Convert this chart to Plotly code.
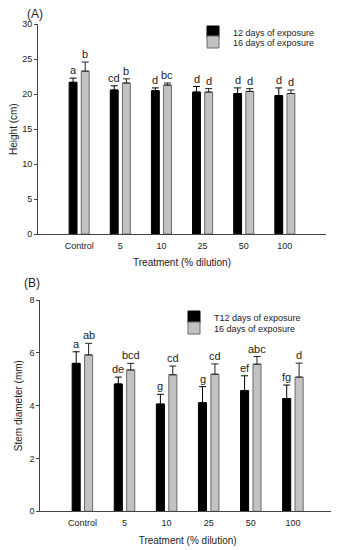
import plotly.graph_objects as go

categories = ["Control", "5", "10", "25", "50", "100"]

height_12 = [21.7, 20.6, 20.5, 20.3, 20.1, 19.8]
height_12_err = [0.6, 0.6, 0.4, 0.8, 0.8, 1.1]
height_16 = [23.3, 21.6, 21.3, 20.3, 20.4, 20.1]
height_16_err = [1.3, 0.6, 0.3, 0.5, 0.4, 0.5]
height_12_letters = ["a", "cd", "d", "d", "d", "d"]
height_16_letters = ["b", "b", "bc", "d", "d", "d"]

stem_12 = [5.60, 4.82, 4.06, 4.11, 4.57, 4.27]
stem_12_err = [0.44, 0.26, 0.37, 0.61, 0.56, 0.51]
stem_16 = [5.92, 5.35, 5.17, 5.19, 5.57, 5.08]
stem_16_err = [0.44, 0.25, 0.33, 0.39, 0.29, 0.53]
stem_12_letters = ["a", "de", "g", "g", "ef", "fg"]
stem_16_letters = ["ab", "bcd", "cd", "cd", "abc", "d"]

height_ticks = [0, 5, 10, 15, 20, 25, 30]
stem_ticks = [0, 2, 4, 6, 8]

# the page body has an 8px margin; lay out in screen pixels and convert
OFF = 8
W, H = 339 - OFF, 550 - OFF


def px(x):
    return (x - OFF) / W


def py(y):
    return 1 - (y - OFF) / H


FONT = "Liberation Sans, Arial, sans-serif"
BLACK = "#000000"
GRAY = "#c2c2c2"
GRAY_LINE = "#6a6a6a"
AXIS = "#444444"
TEXT = "#222222"

fig = go.Figure()


def add_bars(y12, e12, y16, e16, name12, name16, xa, ya, leg1, leg2):
    fig.add_trace(go.Bar(
        x=categories, y=y12, name=name12, xaxis=xa, yaxis=ya, legend=leg1, showlegend=True,
        marker=dict(color=BLACK, line=dict(color=BLACK, width=1)),
        error_y=dict(type="data", array=e12, arrayminus=[0] * len(e12), symmetric=False,
                     color=BLACK, thickness=1, width=3.5),
    ))
    fig.add_trace(go.Bar(
        x=categories, y=y16, name=name16, xaxis=xa, yaxis=ya, legend=leg2, showlegend=True,
        marker=dict(color=GRAY, line=dict(color=GRAY_LINE, width=1)),
        error_y=dict(type="data", array=e16, arrayminus=[0] * len(e16), symmetric=False,
                     color=TEXT, thickness=1, width=3.5),
    ))


add_bars(height_12, height_12_err, height_16, height_16_err,
         "12 days of exposure", "16 days of exposure", "x", "y", "legend", "legend2")
add_bars(stem_12, stem_12_err, stem_16, stem_16_err,
         "T12 days of exposure", "16 days of exposure", "x2", "y2", "legend3", "legend4")

annotations = []


def add_letters(vals, errs, letters, xref, yref, shift):
    for i, (v, e, t) in enumerate(zip(vals, errs, letters)):
        annotations.append(dict(
            x=i, y=v + e, xref=xref, yref=yref, text=t, showarrow=False,
            xanchor="center", yanchor="bottom", xshift=shift, yshift=0,
            font=dict(family=FONT, size=11, color=TEXT),
        ))


add_letters(height_12, height_12_err, height_12_letters, "x", "y", -6)
add_letters(height_16, height_16_err, height_16_letters, "x", "y", 6)
add_letters(stem_12, stem_12_err, stem_12_letters, "x2", "y2", -6.2)
add_letters(stem_16, stem_16_err, stem_16_letters, "x2", "y2", 6.2)

# panel labels
annotations += [
    dict(x=px(25), y=py(14), xref="paper", yref="paper", text="(A)", showarrow=False,
         xanchor="left", yanchor="middle", font=dict(family=FONT, size=12, color=TEXT)),
    dict(x=px(22), y=py(283), xref="paper", yref="paper", text="(B)", showarrow=False,
         xanchor="left", yanchor="middle", font=dict(family=FONT, size=12, color=TEXT)),
]
fig.update_layout(annotations=annotations)

tick_font = dict(family=FONT, size=9, color=TEXT)
title_font = dict(family=FONT, size=10, color=TEXT)

common_x = dict(type="category", range=[-1, 6], showline=True, linecolor=AXIS, linewidth=1,
                ticks="", showgrid=False, zeroline=False, tickfont=tick_font, automargin=False,
                ticklabelstandoff=3,
                title=dict(text="Treatment (% dilution)", font=title_font, standoff=9))
common_y = dict(showline=True, linecolor=AXIS, linewidth=1, ticks="outside", ticklen=3,
                tickcolor=AXIS, showgrid=False, zeroline=False, tickfont=tick_font, automargin=False)

fig.update_layout(
    width=W, height=H,
    margin=dict(l=0, r=0, t=0, b=0, autoexpand=False),
    paper_bgcolor="white", plot_bgcolor="white",
    showlegend=True,
    barmode="group", bargap=0.41, bargroupgap=0.35,
    font=dict(family=FONT, color=TEXT),
    xaxis=dict(domain=[px(38), px(326)], anchor="y", **common_x),
    yaxis=dict(domain=[py(234), py(24.3)], anchor="x", range=[0, 30],
               tickvals=height_ticks, title=dict(text="Height (cm)", font=title_font, standoff=4),
               **common_y),
    xaxis2=dict(domain=[px(40.3), px(335)], anchor="y2", **common_x),
    yaxis2=dict(domain=[py(511.3), py(300)], anchor="x2", range=[0, 8],
                tickvals=stem_ticks, title=dict(text="Stem diameter (mm)", font=title_font, standoff=4),
                **common_y),
)

leg_common = dict(bgcolor="rgba(0,0,0,0)", borderwidth=0, xanchor="left", yanchor="middle",
                  font=dict(family=FONT, size=9, color=TEXT), itemwidth=30, visible=True)
fig.update_layout(
    legend=dict(x=px(193), y=py(32), **leg_common),
    legend2=dict(x=px(193), y=py(42), **leg_common),
    legend3=dict(x=px(174), y=py(317), **leg_common),
    legend4=dict(x=px(174), y=py(328), **leg_common),
)

fig.write_html("out.html")
